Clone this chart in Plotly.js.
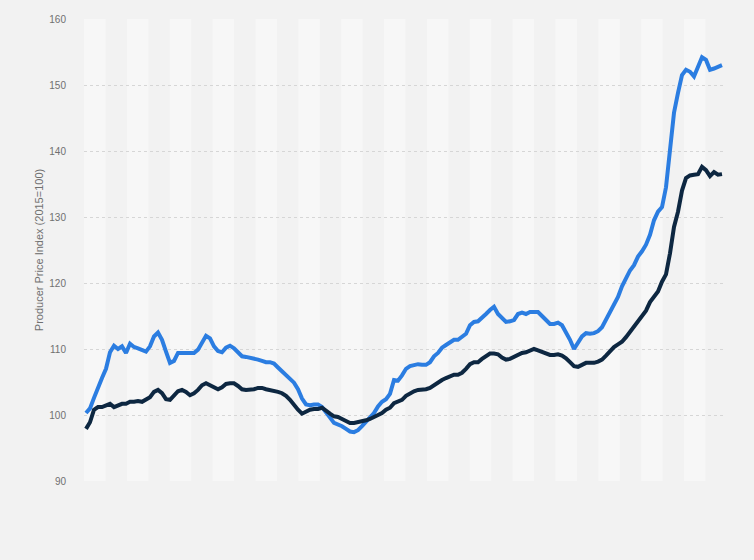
<!DOCTYPE html>
<html>
<head>
<meta charset="utf-8">
<script src="https://cdn.plot.ly/plotly-3.0.1.min.js"></script>
<style>
html,body{margin:0;padding:0;background:#f2f2f2;}
#chart{width:754px;height:560px;}
</style>
</head>
<body>
<div id="chart"></div>
<script>
var seriesA = [
100.3,101,102.6,104.3,105.6,107,109.5,110.5,110,110.4,109.4,110.8,110.3,110.1,109.9,109.6,110.4,111.9,112.5,111.4,
109.6,107.9,108.2,109.4,109.4,109.4,109.4,109.4,109.9,111,112,111.6,110.4,109.7,109.5,110.2,110.5,110.1,109.4,108.9,
108.8,108.7,108.5,108.4,108.2,108,108,107.8,107.2,106.6,106.2,105.6,104.9,103.9,102.5,101.6,101.5,101.6,101.6,101.2,
100.5,99.6,98.8,98.6,98.3,97.9,97.5,97.4,97.7,98.3,98.9,99.5,100.3,101.3,102,102.4,103.2,105.3,105.2,106,
107,107.4,107.6,107.7,107.6,107.6,108,108.9,109.4,110.2,110.6,111,111.4,111.4,111.8,112.3,113.6,114.1,114.2,114.7,
115.3,115.9,116.4,115.3,114.7,114.1,114.2,114.4,115.3,115.5,115.3,115.6,115.6,115.6,115,114.3,113.8,113.8,114,113.6,
112.6,111.4,110,111,111.9,112.4,112.3,112.4,112.7,113.3,114.4,115.5,116.6,117.9,119.5,120.7,121.9,122.7,124,124.8,
125.8,127.3,129.5,130.8,131.5,134.5,140,145.8,148.8,151.5,152.3,152,151.3,152.8,154.2,153.8,152.3,152.5,152.7,153
];
var seriesB = [
97.9,98.9,100.8,101.2,101.2,101.4,101.7,101.2,101.5,101.7,101.7,102,102,102.1,102,102.3,102.7,103.5,103.8,103.3,
102.4,102.3,103,103.6,103.8,103.5,103,103.3,103.8,104.5,104.8,104.5,104.1,103.9,104.2,104.7,104.8,104.8,104.4,103.9,
103.8,103.8,103.9,104.1,104.1,103.9,103.8,103.6,103.5,103.3,102.9,102.3,101.5,100.8,100.2,100.5,100.8,100.9,100.9,101.1,
100.6,100.2,99.8,99.7,99.4,99.1,98.8,98.8,98.9,99.1,99.2,99.4,99.7,100,100.3,100.8,101.1,101.8,102,102.3,
102.9,103.3,103.6,103.8,103.8,103.9,104.1,104.5,105,105.3,105.6,105.9,106.1,106.1,106.4,107,107.7,108,108,108.5,
108.9,109.3,109.3,109.2,108.7,108.4,108.5,108.8,109.1,109.4,109.5,109.7,110,109.8,109.6,109.3,109.1,109.1,109.2,109,
108.6,108,107.4,107.3,107.6,107.9,107.9,107.9,108.1,108.4,109,109.7,110.3,110.7,111.1,111.8,112.6,113.4,114.1,114.8,
115.8,117.1,118,118.7,120.2,121.3,124.5,128.5,130.8,134,135.9,136.3,136.4,136.5,137.6,137.1,136.2,136.8,136.4,136.5
];
var yTicks = [90,100,110,120,130,140,150,160];
var yTitle = 'Producer Price Index (2015=100)';

var xIdx = seriesA.map(function(_, i){ return i; });

var bands = [];
var bandW = 21.43/640;
for (var k = 0; k * bandW < 1; k += 2) {
  bands.push({type:'rect', xref:'paper', yref:'paper', x0:k*bandW, x1:Math.min(1,(k+1)*bandW), y0:0, y1:1,
    fillcolor:'#f7f7f7', line:{width:0}, layer:'below'});
}

var traces = [
  {x:xIdx, y:seriesA, type:'scatter', mode:'lines', line:{color:'#2b7de1', width:4}, hoverinfo:'y'},
  {x:xIdx, y:seriesB, type:'scatter', mode:'lines', line:{color:'#0d2741', width:4}, hoverinfo:'y'}
];

var layout = {
  width:754, height:560,
  paper_bgcolor:'#f2f2f2', plot_bgcolor:'#f2f2f2',
  margin:{l:84, r:30, t:19, b:79},
  showlegend:false,
  font:{family:'"Liberation Sans", Arial, sans-serif', color:'#666666', size:10},
  shapes:bands,
  xaxis:{range:[-0.5, 159.5], showgrid:false, zeroline:false, showticklabels:false, showline:false, ticks:''},
  yaxis:{range:[90,160], tickvals:yTicks, ticktext:yTicks.map(String), showgrid:true, gridcolor:'#d6d6d6', griddash:'dot',
    gridwidth:1, zeroline:false, showline:false, ticks:'outside', ticklen:15, tickcolor:'rgba(0,0,0,0)',
    tickfont:{size:10, color:'#707070'},
    title:{text:yTitle, font:{size:11, color:'#707070'}, standoff:3}}
};

Plotly.newPlot('chart', traces, layout, {displayModeBar:false, staticPlot:true});
</script>
</body>
</html>
